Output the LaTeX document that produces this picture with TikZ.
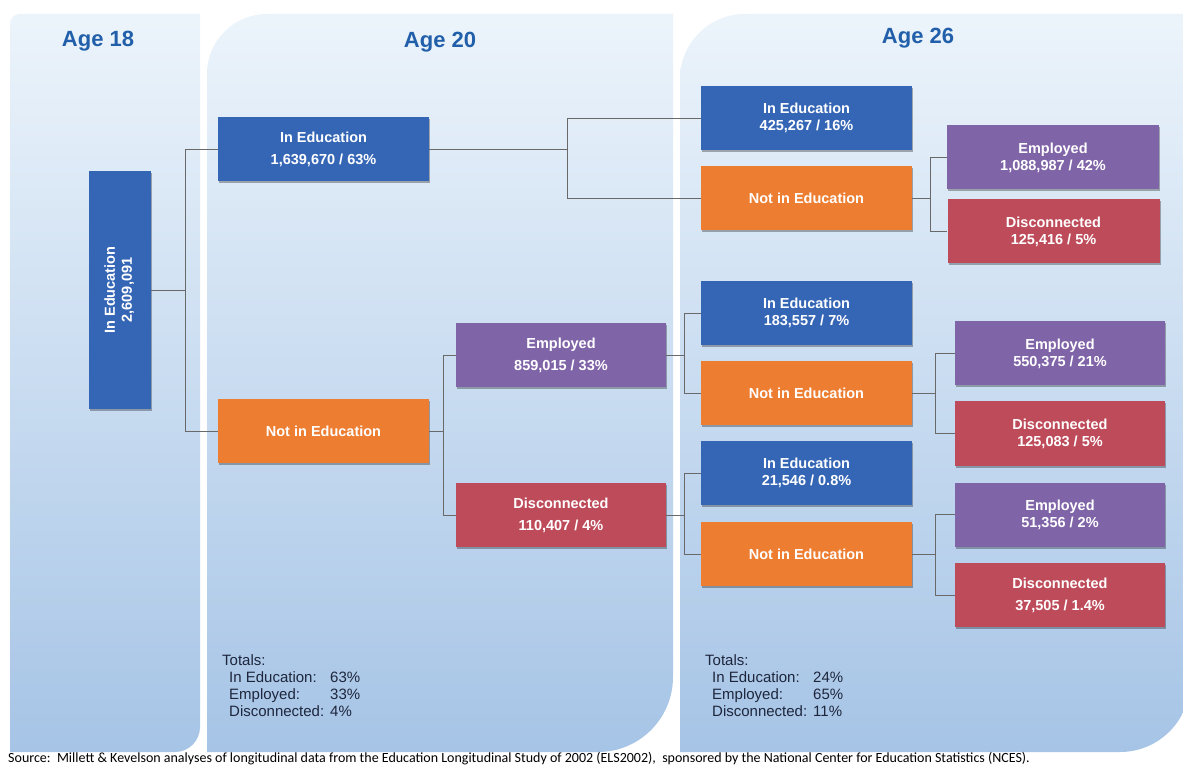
\documentclass[tikz,border=0pt]{standalone}
\usepackage{fontspec}
\setmainfont{Liberation Sans}
\newfontfamily\notefont{Carlito}
\usetikzlibrary{shadows}

\definecolor{edublue}{RGB}{53,102,182}
\definecolor{notorange}{RGB}{237,125,49}
\definecolor{emppurple}{RGB}{128,100,168}
\definecolor{disred}{RGB}{190,75,90}
\definecolor{headblue}{RGB}{33,95,170}
\definecolor{linkgray}{RGB}{105,105,105}
\definecolor{paneltop}{RGB}{236,244,251}
\definecolor{panelbottom}{RGB}{166,196,230}
\definecolor{totalink}{RGB}{30,38,60}

\tikzset{
  box/.style={text=white, align=center, inner sep=0pt,
    minimum width=211pt, minimum height=64pt,
    font=\fontsize{14.5}{17}\selectfont\bfseries,
    drop shadow={shadow xshift=1pt, shadow yshift=-2pt, opacity=0.3, fill=black}},
  inedu/.style={box, fill=edublue},
  notedu/.style={box, fill=notorange},
  employed/.style={box, fill=emppurple},
  disconn/.style={box, fill=disred},
  link/.style={draw=linkgray, line width=0.8pt},
  agelabel/.style={text=headblue, font=\fontsize{22}{24}\selectfont\bfseries},
  totals/.style={text=totalink, anchor=north west, inner sep=0pt,
    font=\fontsize{15}{17}\selectfont},
}

\begin{document}
\begin{tikzpicture}[x=1pt, y=1pt]
  \useasboundingbox (0,0) rectangle (1183,764);
  \fill[white] (0,0) rectangle (1183,764);

  % the three age panels
  \shade[top color=paneltop, bottom color=panelbottom]
    (10,12) -- (10,740) arc[start angle=180, end angle=90, radius=10]
    -- (200,750) -- (200,37) arc[start angle=0, end angle=-90, radius=25] -- cycle;
  \shade[top color=paneltop, bottom color=panelbottom]
    (207,12) -- (207,690) arc[start angle=180, end angle=90, radius=60]
    -- (673,750) -- (673,87) arc[start angle=0, end angle=-90, radius=75] -- cycle;
  \shade[top color=paneltop, bottom color=panelbottom]
    (680,12) -- (680,685) arc[start angle=180, end angle=90, radius=65]
    -- (1190,750) -- (1190,82) arc[start angle=0, end angle=-90, radius=70] -- cycle;

  \node[agelabel] (h18) at (98,723) {Age 18};
  \node[agelabel] (h20) at (440,722) {Age 20};
  \node[agelabel] (h26) at (918,726) {Age 26};

  % age 18
  \node[inedu, minimum width=62pt, minimum height=238pt] (a18) at (120,474)
    {\rotatebox{90}{\begin{tabular}{@{}c@{}}In Education\\2,609,091\end{tabular}}};

  % age 20
  \node[inedu] (in20) at (323.5,614.5) {In Education\\[5pt]1,639,670 / 63\%};
  \node[notedu] (not20) at (323.5,333) {Not in Education};
  \node[employed, minimum width=210pt] (emp20) at (561,409) {Employed\\[5pt]859,015 / 33\%};
  \node[disconn, minimum width=210pt] (dis20) at (561,249) {Disconnected\\[5pt]110,407 / 4\%};

  % age 26, first column
  \node[inedu] (inA) at (806.5,646) {In Education\\425,267 / 16\%};
  \node[notedu] (notA) at (806.5,566) {Not in Education};
  \node[inedu] (inB) at (806.5,451) {In Education\\183,557 / 7\%};
  \node[notedu] (notB) at (806.5,371) {Not in Education};
  \node[inedu] (inC) at (806.5,291) {In Education\\21,546 / 0.8\%};
  \node[notedu] (notC) at (806.5,210) {Not in Education};

  % age 26, second column
  \node[employed, minimum width=212pt] (empA) at (1053,606.5) {Employed\\1,088,987 / 42\%};
  \node[disconn, minimum width=212pt] (disA) at (1053.5,532.5) {Disconnected\\125,416 / 5\%};
  \node[employed, minimum width=210pt] (empB) at (1060,410.5) {Employed\\550,375 / 21\%};
  \node[disconn, minimum width=210pt] (disB) at (1060,330.5) {Disconnected\\125,083 / 5\%};
  \node[employed, minimum width=210pt] (empC) at (1060,249.5) {Employed\\51,356 / 2\%};
  \node[disconn, minimum width=210pt] (disC) at (1060,169) {Disconnected\\[5pt]37,505 / 1.4\%};

  % elbow connectors: source / stub length / upper target / lower target
  \foreach \src/\dx/\up/\down in {a18/34/in20/not20, in20/138/inA/notA,
      not20/14/emp20/dis20, emp20/18/inB/notB, dis20/18/inC/notC,
      notA/18/empA/disA, notB/23/empB/disB, notC/23/empC/disC}
  {
    \draw[link] (\src.east) -- ++(\dx,0) coordinate (fork) |- (\up.west);
    \draw[link] (fork) |- (\down.west);
  };

  % totals
  \node[totals] (tot20) at (222,111) {\begin{tabular}{@{}l@{\hspace{6pt}}l@{}}
    \multicolumn{2}{@{}l}{Totals:}\\
    \hspace{7pt}In Education: & 63\%\\
    \hspace{7pt}Employed: & 33\%\\
    \hspace{7pt}Disconnected: & 4\%
  \end{tabular}};
  \node[totals] (tot26) at (705,111) {\begin{tabular}{@{}l@{\hspace{6pt}}l@{}}
    \multicolumn{2}{@{}l}{Totals:}\\
    \hspace{7pt}In Education: & 24\%\\
    \hspace{7pt}Employed: & 65\%\\
    \hspace{7pt}Disconnected: & 11\%
  \end{tabular}};

  \node[anchor=base west, inner sep=0pt, font=\notefont\fontsize{14}{15}\selectfont] (source) at (8,2)
    {Source:\ \ Millett \& Kevelson analyses of longitudinal data from the Education Longitudinal Study of 2002 (ELS2002),\ \ sponsored by the National Center for Education Statistics (NCES).};
\end{tikzpicture}
\end{document}
